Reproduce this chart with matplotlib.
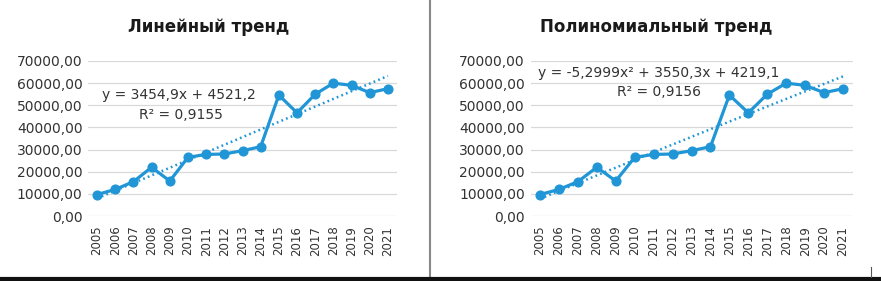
import numpy as np
import matplotlib
matplotlib.use("Agg")
import matplotlib.pyplot as plt
from matplotlib.lines import Line2D

# данные
years = ["2005", "2006", "2007", "2008", "2009", "2010", "2011", "2012", "2013",
         "2014", "2015", "2016", "2017", "2018", "2019", "2020", "2021"]
values = [9700, 12000, 15500, 22000, 15800, 26500, 27800, 28000, 29500,
          31300, 54600, 46600, 55000, 60000, 59000, 55700, 57500]
yticks = [0, 10000, 20000, 30000, 40000, 50000, 60000, 70000]

lin_coef = [3454.9, 4521.2]            # линейный тренд
poly_coef = [-5.2999, 3550.3, 4219.1]  # полиномиальный тренд

titles = ["Линейный тренд", "Полиномиальный тренд"]
eq_texts = ["y = 3454,9x + 4521,2", "y = -5,2999x² + 3550,3x + 4219,1"]
r2_texts = ["R² = 0,9155", "R² = 0,9156"]

W, H = 881, 281
blue = "#2196D6"
txt = "#333333"

fig = plt.figure(figsize=(W / 100, H / 100), dpi=100)
fig.patch.set_facecolor("white")


def px_axes(x0, x1, y0, y1):
    # пиксели картинки -> доли фигуры
    return fig.add_axes([x0 / W, 1 - y1 / H, (x1 - x0) / W, (y1 - y0) / H])


def draw(ax, coef, title, eq, r2, eq_pos, r2_pos, title_x):
    x = np.arange(1, len(values) + 1)
    for v in yticks:
        ax.axhline(v, color="#D9D9D9", lw=0.9, zorder=0)
    ax.plot(x, np.polyval(coef, x), color=blue, lw=1.8, ls=(0, (0.7, 1.3)),
            zorder=2)
    ax.plot(x, values, color=blue, lw=2.3, marker="o", ms=6.3, zorder=3)
    ax.set_xlim(0.5, len(values) + 0.5)
    ax.set_ylim(0, 70000)
    ax.set_yticks(yticks)
    ax.set_yticklabels([f"{v},00" for v in yticks])
    ax.set_xticks(x)
    ax.set_xticklabels(years, rotation=90)
    ax.tick_params(axis="y", length=0, pad=4, labelsize=10, labelcolor=txt)
    ax.tick_params(axis="x", length=0, pad=7, labelsize=8.5, labelcolor=txt)
    for s in ax.spines.values():
        s.set_visible(False)
    ax.text(eq_pos[0], eq_pos[1], eq, transform=ax.transAxes, ha="center",
            va="center", fontsize=10, color=txt)
    ax.text(r2_pos[0], r2_pos[1], r2, transform=ax.transAxes, ha="center",
            va="center", fontsize=10, color=txt)
    fig.text(title_x / W, 1 - 27 / H, title, ha="center", va="center",
             fontsize=12, fontweight="bold", color="#1a1a1a")


ax1 = px_axes(88, 397, 61, 216)
draw(ax1, lin_coef, titles[0], eq_texts[0], r2_texts[0],
     (0.293, 0.78), (0.30, 0.652), 209)

ax2 = px_axes(530.5, 852.5, 61, 216)
draw(ax2, poly_coef, titles[1], eq_texts[1], r2_texts[1],
     (0.399, 0.923), (0.40, 0.80), 656)

# рамки скриншота
fig.add_artist(Line2D([430 / W, 430 / W], [1 - 277 / H, 1], transform=fig.transFigure,
                      color="#888888", lw=1.5))
fig.add_artist(Line2D([0, 1], [1 - 279 / H, 1 - 279 / H], transform=fig.transFigure,
                      color="#111111", lw=3))
fig.add_artist(Line2D([871 / W, 871 / W], [1 - 277 / H, 1 - 267 / H],
                      transform=fig.transFigure, color="#555555", lw=0.8))

fig.savefig("out.png", dpi=100)
